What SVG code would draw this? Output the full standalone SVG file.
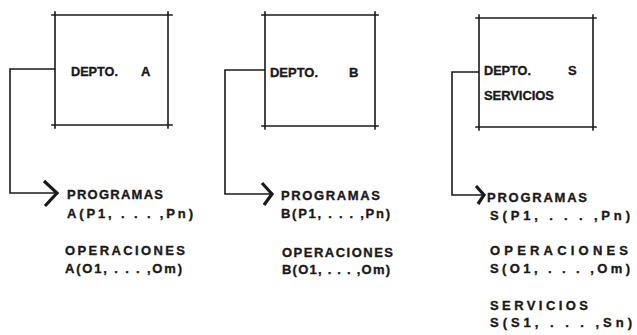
<svg xmlns="http://www.w3.org/2000/svg" width="637" height="335" viewBox="0 0 637 335">
<style>
.bx{stroke:#1a1a1a;stroke-width:1.6;fill:none;stroke-linecap:square}
.cn{stroke:#1a1a1a;stroke-width:1.6;fill:none}
.ah{stroke:#1a1a1a;stroke-width:3.2;fill:none;stroke-linejoin:miter;stroke-linecap:butt}
text{font-family:"Liberation Sans",Arial,sans-serif;font-weight:bold;font-size:13px;fill:#1a1a1a;stroke:#1a1a1a;stroke-width:0.35}
</style>
<rect width="637" height="335" fill="#fff"/>
<g id="connectors">
<path class="cn" d="M55,69 H10 V193 H57"/>
<path class="ah" d="M44,181 L57,193 L45,206"/>
<path class="cn" d="M265,70 H225 V194 H272"/>
<path class="ah" d="M262,183 L272,194 L264,205"/>
<path class="cn" d="M479,72 H452 V195 H484"/>
<path class="ah" d="M476,186 L484,195 L478,204"/>
</g>
<g id="deptoA">
<path class="bx" d="M52,15 H172 M55,12 V128 M168,12 V128 M52,125 H172"/>
<text x="71" y="76" textLength="47" lengthAdjust="spacingAndGlyphs">DEPTO.</text>
<text x="141" y="76">A</text>
</g>
<g id="deptoB">
<path class="bx" d="M262,15 H378 M265,12 V129 M375,12 V129 M262,126 H378"/>
<text x="270" y="77" textLength="48" lengthAdjust="spacingAndGlyphs">DEPTO.</text>
<text x="349" y="77">B</text>
</g>
<g id="deptoS">
<path class="bx" d="M476,18 H596 M479,15 V130 M593,15 V130 M476,127 H596"/>
<text x="484" y="75" textLength="47" lengthAdjust="spacingAndGlyphs">DEPTO.</text>
<text x="568" y="75">S</text>
<text x="484" y="100" textLength="70" lengthAdjust="spacing">SERVICIOS</text>
</g>
<g id="listA">
<text x="67" y="199" textLength="96" lengthAdjust="spacing">PROGRAMAS</text>
<text x="67" y="218" textLength="126" lengthAdjust="spacing">A(P1, . . . ,Pn)</text>
<text x="65" y="255" textLength="120" lengthAdjust="spacing">OPERACIONES</text>
<text x="65" y="273" textLength="117" lengthAdjust="spacing">A(O1, . . . ,Om)</text>
</g>
<g id="listB">
<text x="281" y="200" textLength="99" lengthAdjust="spacing">PROGRAMAS</text>
<text x="281" y="218" textLength="109" lengthAdjust="spacing">B(P1, . . . ,Pn)</text>
<text x="282" y="257" textLength="111" lengthAdjust="spacing">OPERACIONES</text>
<text x="282" y="274" textLength="108" lengthAdjust="spacing">B(O1, . . . ,Om)</text>
</g>
<g id="listS">
<text x="487" y="202" textLength="100" lengthAdjust="spacing">PROGRAMAS</text>
<text x="490" y="220" textLength="140" lengthAdjust="spacing">S(P1, . . . ,Pn)</text>
<text x="490" y="255" textLength="138" lengthAdjust="spacing">OPERACIONES</text>
<text x="490" y="273" textLength="140" lengthAdjust="spacing">S(O1, . . . ,Om)</text>
<text x="490" y="310" textLength="98" lengthAdjust="spacing">SERVICIOS</text>
<text x="490" y="327" textLength="142" lengthAdjust="spacing">S(S1, . . . ,Sn)</text>
</g>
</svg>
